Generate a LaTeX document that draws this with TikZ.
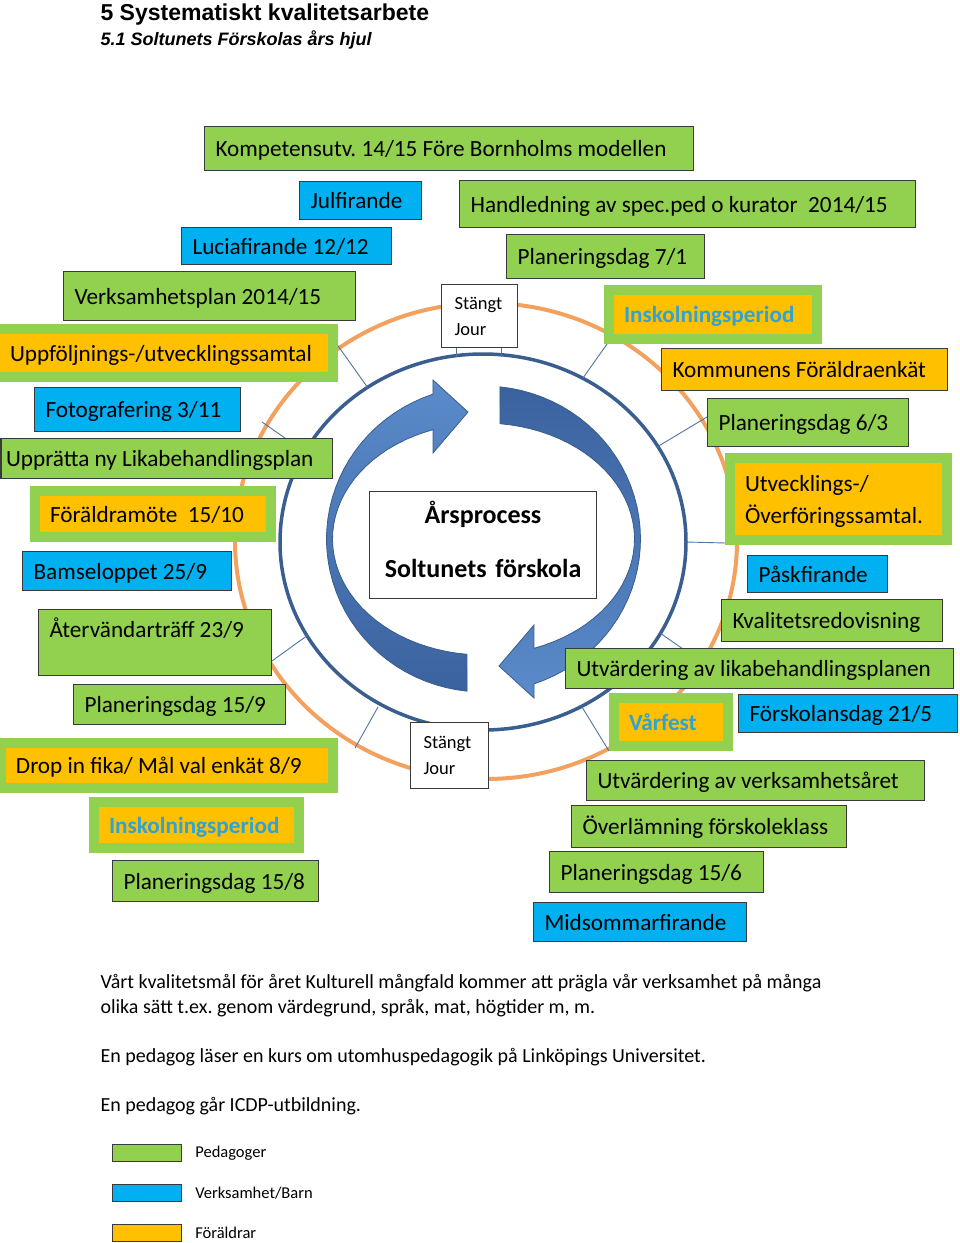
\documentclass[tikz,border=0pt]{standalone}
\usepackage{fontspec}
\setmainfont{Carlito}
\newfontfamily\arialfont{Liberation Sans}
\usepackage{tikz}
\usepackage{xcolor}
\usetikzlibrary{positioning}
\frenchspacing
\definecolor{pedgreen}{HTML}{92D050}
\definecolor{verkblue}{HTML}{00B0F0}
\definecolor{foralorange}{HTML}{FFC000}
\definecolor{boxline}{HTML}{3A3A3A}
\definecolor{ringblue}{HTML}{3B5E91}
\definecolor{ringorange}{HTML}{F2A25E}
\definecolor{tickblue}{HTML}{4F74A6}
\definecolor{arrlight}{HTML}{5B8BCB}
\definecolor{arrdark}{HTML}{3A629E}
\definecolor{arredge}{HTML}{385D8A}
\definecolor{inskoltext}{HTML}{2FA3D5}
\newcommand\boxfont{\fontsize{23.2}{28}\selectfont}
\newcommand\jourfont{\fontsize{18.5}{26}\selectfont}
\newcommand\parafont{\fontsize{20}{25}\selectfont}
\newcommand\legfont{\fontsize{16.5}{20}\selectfont}
\tikzset{
  box/.style={anchor=north west, draw=boxline, line width=1.1pt, inner xsep=11pt,
    inner ysep=0pt, align=flush left, font=\boxfont},
  oneline/.style={text height=18pt, text depth=2pt},
  pedbox/.style={box, oneline, fill=pedgreen},
  verkbox/.style={box, oneline, fill=verkblue},
  foralbox/.style={box, oneline, fill=foralorange},
  dblbox/.style={box, oneline, draw=pedgreen, line width=10pt, fill=foralorange, inner xsep=15pt},
  inskol/.style={text=inskoltext, font=\boxfont\bfseries},
  jourbox/.style={box, fill=white, font=\jourfont, inner xsep=13pt},
  tick/.style={draw=tickblue, line width=0.9pt},
  legbox/.style={anchor=north west, draw=boxline, line width=0.8pt, minimum width=69pt,
    minimum height=17pt, inner sep=0pt},
}

\begin{document}
\begin{tikzpicture}[x=1pt, y=-1pt]
  \useasboundingbox (0,0) rectangle (960,1243);

  % ── Heading ──
  \node[anchor=base west, font=\arialfont\bfseries\fontsize{23}{28}\selectfont] (title) at (97,20)
    {5 Systematiskt kvalitetsarbete};
  \node[anchor=base west, font=\arialfont\bfseries\itshape\fontsize{18}{22}\selectfont] (subtitle) at (97,45)
    {5.1 Soltunets Förskolas års hjul};

  % ── Year wheel ──
  \draw[ringorange, line width=4pt] (486,541) ellipse [x radius=251pt, y radius=238pt];
  \draw[ringblue, line width=3.5pt] (483,542) ellipse [x radius=203pt, y radius=188pt];

  % spokes from the blue ring
  \coordinate (ra) at (368,388);  \coordinate (oa) at (336,343);
  \coordinate (rb) at (456,357);  \coordinate (ob) at (456,346);
  \coordinate (rc) at (501,357);  \coordinate (oc) at (501,346);
  \coordinate (rd) at (583,378);  \coordinate (od) at (607,344);
  \coordinate (re) at (657,447);  \coordinate (oe) at (707,417);
  \coordinate (rf) at (686,542);  \coordinate (of) at (726,543);
  \coordinate (rg) at (660,633);  \coordinate (og) at (683,649);
  \coordinate (rh) at (582,707);  \coordinate (oh) at (609,751);
  \coordinate (ri) at (378,707);  \coordinate (oi) at (355,748);
  \coordinate (rj) at (308,635);  \coordinate (oj) at (272,661);
  \coordinate (rk) at (305,452);  \coordinate (ok) at (262,422);
  \foreach \t in {a,b,c,d,e,f,g,h,i,j,k}
    \draw[tick] (r\t) -- (o\t);

  % circular arrows
  \foreach \r/\ctop/\cbot in {0/arrlight/arrdark, 180/arrdark/arrlight} {
    \begin{scope}[rotate around={\r:(483.5,539)}]
      \draw[arredge, line width=0.8pt, top color=\ctop, bottom color=\cbot]
        plot[domain=96:251.2, samples=40] ({483.5+157*cos(\x)}, {539+153*sin(\x)})
        -- (433,380) -- (468,412) -- (433,453)
        -- plot[domain=250.5:96.3, samples=40] ({483.5+151*cos(\x)}, {539+116*sin(\x)})
        -- cycle;
    \end{scope}
  }

  \node[box, fill=white, align=center, text width=205pt, minimum height=107pt,
    font=\fontsize{26}{54}\selectfont\bfseries, text height=11pt, text depth=54pt]
    (arsprocess) at (369,491) {Årsprocess\\Soltunets förskola};

  \node[jourbox, text width=50pt, minimum height=63pt] (jourtop) at (441,284) {Stängt\\Jour};
  \node[jourbox, text width=52pt, minimum height=66pt] (jourbot) at (410,722) {Stängt\\Jour};

  % ── Activities, autumn side ──
  \node[pedbox, text width=467pt, minimum height=44pt] (komp) at (204,126)
    {Kompetensutv. 14/15 Före Bornholms modellen};
  \node[verkbox, text width=100pt, minimum height=38pt] (jul) at (299,181) {Julfirande};
  \node[verkbox, text width=188pt, minimum height=37pt] (lucia) at (181,227) {Luciafirande 12/12};
  \node[pedbox, text width=270pt, minimum height=49pt] (verksplan) at (63,271) {Verksamhetsplan 2014/15};
  \node[dblbox, text width=308pt, minimum height=48pt] (uppfolj) at (-10,324)
    {Uppföljnings-/utvecklingssamtal};
  \node[verkbox, text width=184pt, minimum height=44pt] (foto) at (34,387) {Fotografering 3/11};
  \node[pedbox, inner xsep=5pt, text width=321pt, minimum height=40pt] (likaplan) at (0.5,438)
    {Upprätta ny Likabehandlingsplan};
  \node[dblbox, text width=206pt, minimum height=46pt] (foraldramote) at (30,486) {Föräldramöte~ 15/10};
  \node[verkbox, text width=187pt, minimum height=39pt] (bamse) at (22,551) {Bamseloppet 25/9};
  \node[pedbox, text width=211pt, minimum height=66pt, text height=28pt, text depth=38pt]
    (atervand) at (38,609) {Återvändarträff 23/9};
  \node[pedbox, text width=190pt, minimum height=40pt] (plan159) at (73,684) {Planeringsdag 15/9};
  \node[dblbox, text width=302pt, minimum height=45pt] (dropin) at (-4,738)
    {Drop in fika/ Mål val enkät 8/9};
  \node[dblbox, inskol, text width=175pt, minimum height=46pt] (inskolaut) at (89,797) {Inskolningsperiod};
  \node[pedbox, text width=184pt, minimum height=41pt] (plan158) at (112,860) {Planeringsdag 15/8};

  % ── Activities, spring side ──
  \node[pedbox, text width=434pt, minimum height=47pt] (handled) at (459,180)
    {Handledning av spec.ped o kurator~ 2014/15};
  \node[pedbox, text width=176pt, minimum height=44pt] (plan71) at (506,234) {Planeringsdag 7/1};
  \node[dblbox, inskol, text width=178pt, minimum height=49pt] (inskolvar) at (604,285) {Inskolningsperiod};
  \node[foralbox, text width=264pt, minimum height=42pt] (enkat) at (661,348) {Kommunens Föräldraenkät};
  \node[pedbox, text width=179pt, minimum height=48pt] (plan63) at (707,398) {Planeringsdag 6/3};
  \node[dblbox, text width=187pt, minimum height=82pt, text height=21pt, text depth=37pt,
    font=\fontsize{23.2}{32}\selectfont] (overforing) at (725,453) {Utvecklings-/\\Överföringssamtal.};
  \node[verkbox, text width=118pt, minimum height=37pt] (pask) at (747,555) {Påskfirande};
  \node[pedbox, text width=199pt, minimum height=42pt] (kvalitet) at (721,599) {Kvalitetsredovisning};
  \node[pedbox, text width=366pt, minimum height=40pt] (utvlika) at (565,648)
    {Utvärdering av likabehandlingsplanen};
  \node[dblbox, inskol, text width=84pt, minimum height=48pt] (varfest) at (609,693) {Vårfest};
  \node[verkbox, text width=197pt, minimum height=38pt] (forskdag) at (738,694) {Förskolansdag 21/5};
  \node[pedbox, text width=316pt, minimum height=40pt] (utvverk) at (586,760) {Utvärdering av verksamhetsåret};
  \node[pedbox, text width=253pt, minimum height=42pt] (overlam) at (571,805) {Överlämning förskoleklass};
  \node[pedbox, text width=192pt, minimum height=41pt] (plan156) at (549,851) {Planeringsdag 15/6};
  \node[verkbox, text width=191pt, minimum height=39pt] (midsommar) at (533,902) {Midsommarfirande};

  % ── Notes ──
  \node[anchor=base west, font=\parafont] (mal1) at (97,988)
    {Vårt kvalitetsmål för året Kulturell mångfald kommer att prägla vår verksamhet på många};
  \node[anchor=base west, font=\parafont] (mal2) at (97,1013)
    {olika sätt t.ex. genom värdegrund, språk, mat, högtider m, m.};
  \node[anchor=base west, font=\parafont] (kurs) at (97,1062)
    {En pedagog läser en kurs om utomhuspedagogik på Linköpings Universitet.};
  \node[anchor=base west, font=\parafont] (icdp) at (97,1111) {En pedagog går ICDP-utbildning.};

  % ── Legend ──
  \node[legbox, fill=pedgreen] (legped) at (112,1144) {};
  \node[font=\legfont, right=10pt of legped] (legpedtxt) {Pedagoger};
  \node[legbox, fill=verkblue] (legverk) at (112,1184) {};
  \node[font=\legfont, right=10pt of legverk] (legverktxt) {Verksamhet/Barn};
  \node[legbox, fill=foralorange] (legforal) at (112,1224) {};
  \node[font=\legfont, right=10pt of legforal] (legforaltxt) {Föräldrar};
\end{tikzpicture}
\end{document}
